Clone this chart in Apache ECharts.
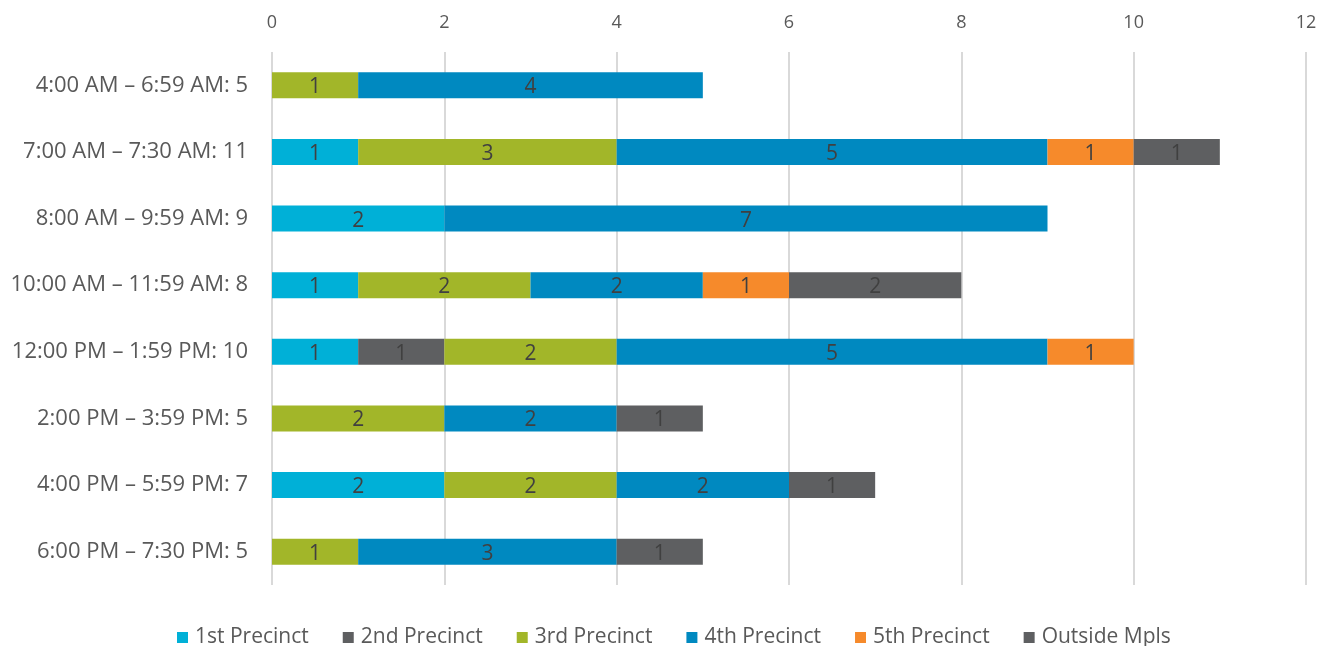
<!DOCTYPE html>
<html>
<head>
<meta charset="utf-8">
<script src="https://cdn.jsdelivr.net/npm/echarts@6/dist/echarts.min.js"></script>
<style>
  html, body { margin: 0; padding: 0; background: #fff; }
  #chart { width: 1332px; height: 646px; }
</style>
</head>
<body>
<div id="chart"></div>
<script>
// Time windows, top to bottom
const categories = [
  '4:00 AM – 6:59 AM: 5',
  '7:00 AM – 7:30 AM: 11',
  '8:00 AM – 9:59 AM: 9',
  '10:00 AM – 11:59 AM: 8',
  '12:00 PM – 1:59 PM: 10',
  '2:00 PM – 3:59 PM: 5',
  '4:00 PM – 5:59 PM: 7',
  '6:00 PM – 7:30 PM: 5'
];

// Counts per precinct (null = none in that window)
const precinct1 = [null, 1, 2, 1, 1, null, 2, null];
const precinct2 = [null, null, null, null, 1, null, null, null];
const precinct3 = [1, 3, null, 2, 2, 2, 2, 1];
const precinct4 = [4, 5, 7, 2, 5, 2, 2, 3];
const precinct5 = [null, 1, null, 1, 1, null, null, null];
const outsideMpls = [null, 1, null, 2, null, 1, 1, 1];

const xTicks = { min: 0, max: 12, interval: 2 };

const seriesDefs = [
  { name: '1st Precinct', data: precinct1, color: '#00B0D7' },
  { name: '2nd Precinct', data: precinct2, color: '#5E5F61' },
  { name: '3rd Precinct', data: precinct3, color: '#A2B629' },
  { name: '4th Precinct', data: precinct4, color: '#0089C0' },
  { name: '5th Precinct', data: precinct5, color: '#F68A2B' },
  { name: 'Outside Mpls', data: outsideMpls, color: '#5E5F61' }
];

const font = '"Open Sans", "Noto Sans", sans-serif';

const chart = echarts.init(document.getElementById('chart'), null, { renderer: 'canvas' });
chart.setOption({
  animation: false,
  textStyle: { fontFamily: font },
  grid: { left: 272, right: 26, top: 52, bottom: 61, containLabel: false },
  legend: {
    top: 622,
    left: 172,
    itemWidth: 11,
    itemHeight: 11,
    itemGap: 34,
    icon: 'rect',
    textStyle: { fontSize: 21, color: '#595959', fontFamily: font, padding: [0, 0, 0, 2] },
    data: seriesDefs.map(s => s.name)
  },
  xAxis: {
    type: 'value',
    position: 'top',
    min: xTicks.min,
    max: xTicks.max,
    interval: xTicks.interval,
    axisLine: { show: false },
    axisTick: { show: false },
    axisLabel: { fontSize: 18, color: '#595959', margin: 20 },
    splitLine: { lineStyle: { color: '#D9D9D9', width: 2 } }
  },
  yAxis: {
    type: 'category',
    inverse: true,
    data: categories,
    axisLine: { show: false },
    axisTick: { show: false },
    axisLabel: { fontSize: 22, color: '#595959', margin: 24 }
  },
  series: seriesDefs.map(s => ({
    name: s.name,
    type: 'bar',
    stack: 'total',
    barWidth: 26,
    data: s.data,
    itemStyle: { color: s.color },
    label: {
      show: true,
      position: 'inside',
      fontSize: 21,
      color: '#404040',
      fontFamily: font,
      offset: [0, 2]
    }
  }))
});
</script>
</body>
</html>
